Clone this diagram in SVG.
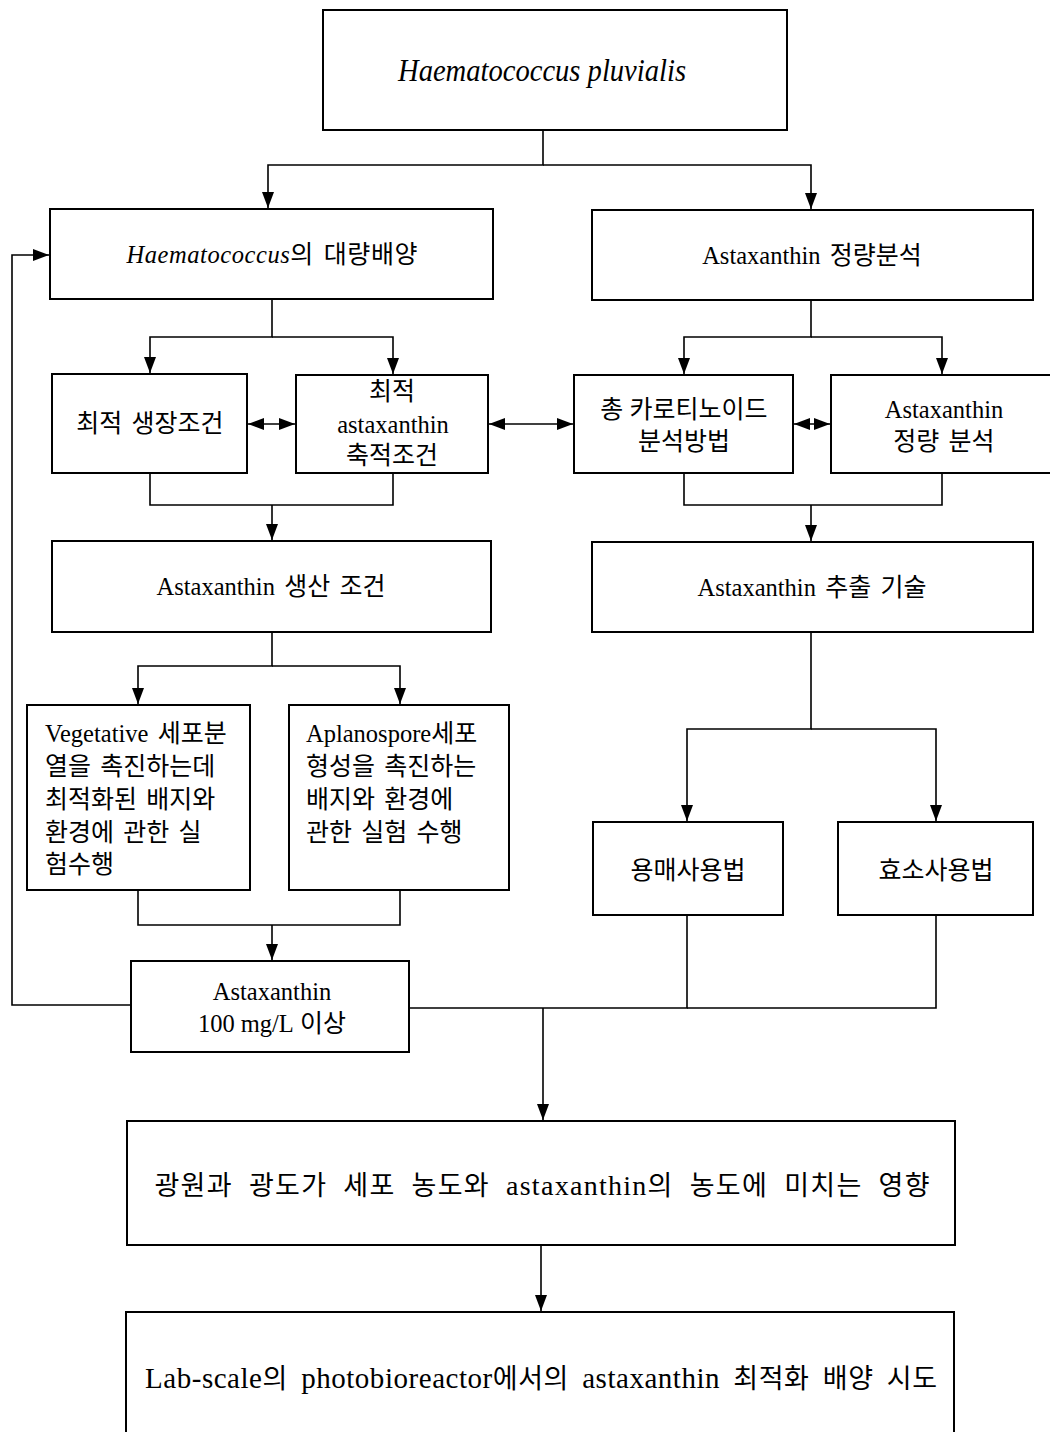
<svg xmlns="http://www.w3.org/2000/svg" width="1050" height="1432" viewBox="0 0 1050 1432">
<defs>
<marker id="ah" viewBox="0 0 16 12" refX="16" refY="6" markerWidth="16" markerHeight="12" markerUnits="userSpaceOnUse" orient="auto-start-reverse">
<path d="M0,0 L16,6 L0,12 z" fill="#000"/>
</marker>
<style>
.box{fill:#fff;stroke:#000;stroke-width:2}
.t{font-family:"Liberation Serif","Noto Sans CJK KR",serif;font-size:25px;fill:#000;word-spacing:3px}
.c{text-anchor:middle}
.i{font-style:italic}
.e{font-size:24.5px}
.big{font-size:27px}
.L{font-size:28px}
.M{font-size:29px}
.ln{fill:none;stroke:#000;stroke-width:1.6}
.ar{fill:none;stroke:#000;stroke-width:1.6;marker-end:url(#ah)}
.da{fill:none;stroke:#000;stroke-width:1.6;marker-start:url(#ah);marker-end:url(#ah)}
</style>
</defs>
<rect width="1050" height="1432" fill="#fff"/>
<g id="connectors">
<path class="ar" d="M543,130 V165 H268 V208"/>
<path class="ar" d="M543,165 H811 V209"/>
<path class="ar" d="M272,299 V337 H150 V373"/>
<path class="ar" d="M272,337 H393 V374"/>
<path class="ar" d="M811,300 V337 H684 V374"/>
<path class="ar" d="M811,337 H942 V374"/>
<path class="da" d="M248,424 H295"/>
<path class="da" d="M489,424 H573"/>
<path class="da" d="M794,424 H830"/>
<path class="ln" d="M150,473 V505 H393 V473"/>
<path class="ar" d="M272,505 V540"/>
<path class="ln" d="M684,473 V505 H942 V473"/>
<path class="ar" d="M811,505 V541"/>
<path class="ar" d="M272,632 V666 H138 V704"/>
<path class="ar" d="M272,666 H400 V704"/>
<path class="ln" d="M138,890 V925 H400 V890"/>
<path class="ar" d="M272,925 V960"/>
<path class="ar" d="M811,632 V729 H687 V821"/>
<path class="ar" d="M811,729 H936 V821"/>
<path class="ar" d="M131,1005 H12 V255 H49"/>
<path class="ln" d="M409,1008 H687 V915"/>
<path class="ln" d="M687,1008 H936 V915"/>
<path class="ar" d="M543,1008 V1120"/>
<path class="ar" d="M541,1245 V1311"/>
</g>
<g id="n-top">
<rect class="box" x="323" y="10" width="464" height="120"/>
<text class="t c i" x="542" y="81" style="font-size:31px;word-spacing:0" textLength="288" lengthAdjust="spacingAndGlyphs">Haematococcus pluvialis</text>
</g>
<g id="n-culture">
<rect class="box" x="50" y="209" width="443" height="90"/>
<text class="t c" x="272" y="263" textLength="291" lengthAdjust="spacing"><tspan class="i e">Haematococcus</tspan>의 대량배양</text>
</g>
<g id="n-analysis">
<rect class="box" x="592" y="210" width="441" height="90"/>
<text class="t c" x="812" y="264"><tspan class="e">Astaxanthin</tspan> 정량분석</text>
</g>
<g id="n-growth">
<rect class="box" x="52" y="374" width="195" height="99"/>
<text class="t c" x="150" y="432">최적 생장조건</text>
</g>
<g id="n-accum">
<rect class="box" x="296" y="375" width="192" height="98"/>
<text class="t c" x="392" y="400">최적</text>
<text class="t c e" x="393" y="433">astaxanthin</text>
<text class="t c" x="392" y="464">축적조건</text>
</g>
<g id="n-carotenoid">
<rect class="box" x="574" y="375" width="219" height="98"/>
<text class="t c" x="684" y="418" style="word-spacing:0">총 카로티노이드</text>
<text class="t c" x="684" y="450">분석방법</text>
</g>
<g id="n-quant">
<rect class="box" x="831" y="375" width="220" height="98"/>
<text class="t c e" x="944" y="418">Astaxanthin</text>
<text class="t c" x="944" y="450">정량 분석</text>
</g>
<g id="n-production">
<rect class="box" x="52" y="541" width="439" height="91"/>
<text class="t c" x="271" y="595"><tspan class="e">Astaxanthin</tspan> 생산 조건</text>
</g>
<g id="n-extraction">
<rect class="box" x="592" y="542" width="441" height="90"/>
<text class="t c" x="812" y="596"><tspan class="e">Astaxanthin</tspan> 추출 기술</text>
</g>
<g id="n-vegetative">
<rect class="box" x="27" y="705" width="223" height="185"/>
<text class="t" x="45" y="742"><tspan class="e">Vegetative</tspan> 세포분</text>
<text class="t" x="45" y="775">열을 촉진하는데</text>
<text class="t" x="45" y="808">최적화된 배지와</text>
<text class="t" x="45" y="841">환경에 관한 실</text>
<text class="t" x="45" y="873">험수행</text>
</g>
<g id="n-aplanospore">
<rect class="box" x="289" y="705" width="220" height="185"/>
<text class="t" x="306" y="742"><tspan class="e">Aplanospore</tspan>세포</text>
<text class="t" x="306" y="775">형성을 촉진하는</text>
<text class="t" x="306" y="808">배지와 환경에</text>
<text class="t" x="306" y="841">관한 실험 수행</text>
</g>
<g id="n-100">
<rect class="box" x="131" y="961" width="278" height="91"/>
<text class="t c e" x="272" y="1000">Astaxanthin</text>
<text class="t c" x="272" y="1032" style="word-spacing:0"><tspan class="e">100 mg/L</tspan> 이상</text>
</g>
<g id="n-solvent">
<rect class="box" x="593" y="822" width="190" height="93"/>
<text class="t c" x="688" y="879">용매사용법</text>
</g>
<g id="n-enzyme">
<rect class="box" x="838" y="822" width="195" height="93"/>
<text class="t c" x="936" y="879">효소사용법</text>
</g>
<g id="n-light">
<rect class="box" x="127" y="1121" width="828" height="124"/>
<text class="t c big" x="542" y="1195" style="word-spacing:8px" textLength="775" lengthAdjust="spacing">광원과 광도가 세포 농도와 <tspan class="L">astaxanthin</tspan>의 농도에 미치는 영향</text>
</g>
<g id="n-lab">
<rect class="box" x="126" y="1312" width="828" height="140"/>
<text class="t c big" x="541" y="1388" style="word-spacing:6px" textLength="792" lengthAdjust="spacing"><tspan class="M">Lab-scale</tspan>의 <tspan class="M">photobioreactor</tspan>에서의 <tspan class="M">astaxanthin</tspan> 최적화 배양 시도</text>
</g>
</svg>
